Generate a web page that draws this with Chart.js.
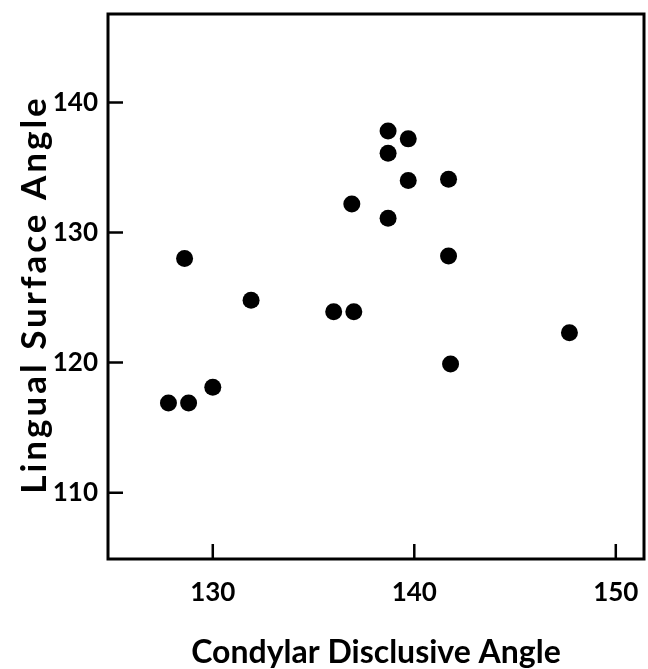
<!DOCTYPE html>
<html>
<head>
<meta charset="utf-8">
<script src="https://cdn.jsdelivr.net/npm/chart.js@4"></script>
<style>
  html, body { margin: 0; padding: 0; background: #fff; }
  #wrap { width: 648px; height: 669px; }
</style>
</head>
<body>
<div id="wrap"><canvas id="chart" width="648" height="669"></canvas></div>
<script>
// condylar disclusive angle (x) vs lingual surface angle (y)
const condylar = [138.7, 139.7, 138.7, 139.7, 141.7, 136.9, 138.7, 128.6, 141.7, 131.9, 136.0, 137.0, 141.8, 130.0, 127.8, 128.8, 147.7];
const lingual  = [137.8, 137.2, 136.1, 134.0, 134.1, 132.2, 131.1, 128.0, 128.2, 124.8, 123.9, 123.9, 119.9, 118.1, 116.9, 116.9, 122.3];
const xTicks = [130, 140, 150];
const yTicks = [110, 120, 130, 140];
const yTitle = 'Lingual Surface Angle';

const points = condylar.map((x, i) => ({ x: x, y: lingual[i] }));

const font = "Lato, 'Noto Sans', sans-serif";

// box round the plot, inward ticks, and the spaced-out y title
const frame = {
  id: 'frame',
  afterDraw(c) {
    const a = c.chartArea;
    const ctx = c.ctx;
    ctx.save();
    ctx.strokeStyle = '#000';
    ctx.lineWidth = 3;
    ctx.strokeRect(a.left, a.top, a.right - a.left, a.bottom - a.top);
    ctx.lineWidth = 2.5;
    ctx.beginPath();
    xTicks.forEach(v => {
      const px = c.scales.x.getPixelForValue(v);
      ctx.moveTo(px, a.bottom);
      ctx.lineTo(px, a.bottom - 15);
    });
    yTicks.forEach(v => {
      const py = c.scales.y.getPixelForValue(v);
      ctx.moveTo(a.left, py);
      ctx.lineTo(a.left + 15, py);
    });
    ctx.stroke();
    ctx.restore();

    ctx.save();
    ctx.translate(46, (a.top + a.bottom) / 2 + 8);
    ctx.rotate(-Math.PI / 2);
    ctx.font = "bold 35px " + font;
    ctx.letterSpacing = '3px';
    ctx.fillStyle = '#000';
    ctx.textAlign = 'center';
    ctx.textBaseline = 'alphabetic';
    ctx.fillText(yTitle, 0, 0);
    ctx.restore();
  }
};

new Chart(document.getElementById('chart'), {
  type: 'scatter',
  data: {
    datasets: [{
      data: points,
      backgroundColor: '#000',
      borderWidth: 0,
      pointRadius: 8.5,
      pointHoverRadius: 8.5
    }]
  },
  options: {
    responsive: false,
    animation: false,
    layout: { autoPadding: false, padding: { top: 14, right: 4, left: 0, bottom: 0 } },
    plugins: { legend: { display: false }, tooltip: { enabled: false } },
    scales: {
      x: {
        type: 'linear',
        min: 124.8,
        max: 151.4,
        afterBuildTicks: s => { s.ticks = xTicks.map(v => ({ value: v })); },
        afterFit: s => { s.height = 110; s.paddingLeft = 0; s.paddingRight = 0; },
        grid: { display: false, drawTicks: false },
        border: { display: false },
        ticks: { color: '#000', padding: 18, font: { family: font, size: 26, weight: 'bold' } },
        title: {
          display: true,
          text: 'Condylar Disclusive Angle',
          color: '#000',
          padding: { top: 20, bottom: 0 },
          font: { family: font, size: 32, weight: 'bold', lineHeight: 1.0 }
        }
      },
      y: {
        type: 'linear',
        min: 104.9,
        max: 146.8,
        afterBuildTicks: s => { s.ticks = yTicks.map(v => ({ value: v })); },
        afterFit: s => { s.width = 108; s.paddingTop = 0; s.paddingBottom = 0; },
        grid: { display: false, drawTicks: false },
        border: { display: false },
        ticks: { color: '#000', padding: 10, font: { family: font, size: 26, weight: 'bold' } },
        title: { display: false }
      }
    }
  },
  plugins: [frame]
});
</script>
</body>
</html>
